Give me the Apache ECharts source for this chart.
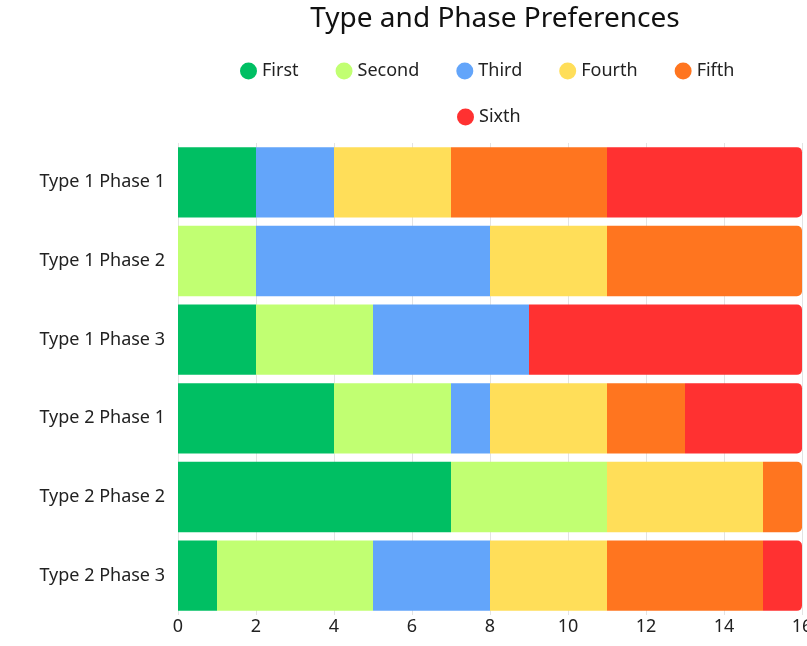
<!DOCTYPE html>
<html>
<head>
<meta charset="utf-8">
<script src="https://cdn.jsdelivr.net/npm/echarts@6/dist/echarts.min.js"></script>
<style>
html,body{margin:0;padding:0;background:#fff;}
#main{width:807px;height:646px;}
</style>
</head>
<body>
<div id="main"></div>
<script>
const categories = ['Type 1 Phase 1','Type 1 Phase 2','Type 1 Phase 3','Type 2 Phase 1','Type 2 Phase 2','Type 2 Phase 3'];
const seriesNames = ['First','Second','Third','Fourth','Fifth','Sixth'];
const firstVals  = [2, 0, 2, 4, 7, 1];
const secondVals = [0, 2, 3, 3, 4, 4];
const thirdVals  = [2, 6, 4, 1, 0, 3];
const fourthVals = [3, 3, 0, 3, 4, 3];
const fifthVals  = [4, 5, 0, 2, 1, 4];
const sixthVals  = [5, 0, 7, 3, 0, 1];
const xTicks = [0, 2, 4, 6, 8, 10, 12, 14, 16];
const colors = ['#00BF63','#C1FF72','#63A5FA','#FFDE59','#FF751F','#FF3131'];

const allVals = [firstVals, secondVals, thirdVals, fourthVals, fifthVals, sixthVals];
// last non-zero segment per category gets the rounded right end
const lastIdx = categories.map((c, ci) => {
  let li = -1;
  allVals.forEach((arr, si) => { if (arr[ci] > 0) li = si; });
  return li;
});

const FONT = 'Noto Sans';
const series = seriesNames.map((name, si) => ({
  name: name,
  type: 'bar',
  stack: 'total',
  barCategoryGap: '10.5%',
  itemStyle: { color: colors[si] },
  data: allVals[si].map((v, ci) => ({
    value: v,
    itemStyle: lastIdx[ci] === si ? { borderRadius: [0, 5, 5, 0] } : { borderRadius: 0 }
  }))
}));

const chart = echarts.init(document.getElementById('main'), null, { renderer: 'canvas' });
chart.setOption({
  animation: false,
  color: colors,
  textStyle: { fontFamily: FONT },
  title: {
    text: 'Type and Phase Preferences',
    left: 490,
    top: 0,
    textAlign: 'center',
    textStyle: { fontFamily: FONT, fontSize: 28, fontWeight: 'normal', color: '#111' }
  },
  legend: [
    {
      data: seriesNames.slice(0, 5),
      left: 235, top: 57,
      icon: 'circle', itemWidth: 17, itemHeight: 17, itemGap: 37,
      textStyle: { fontFamily: FONT, fontSize: 18, color: '#222' }
    },
    {
      data: seriesNames.slice(5),
      left: 452, top: 103,
      icon: 'circle', itemWidth: 17, itemHeight: 17, itemGap: 37,
      textStyle: { fontFamily: FONT, fontSize: 18, color: '#222' }
    }
  ],
  grid: { left: 178, right: 5, top: 143, bottom: 31, containLabel: false, outerBoundsMode: 'none' },
  xAxis: {
    type: 'value',
    min: xTicks[0], max: xTicks[xTicks.length - 1], interval: 2,
    axisLine: { show: false },
    axisTick: { show: false },
    axisLabel: { fontFamily: FONT, fontSize: 18, color: '#222', margin: 3 },
    splitLine: { show: true, lineStyle: { color: '#e3e3e3', width: 1 } }
  },
  yAxis: {
    type: 'category',
    data: categories,
    inverse: true,
    axisLine: { show: false },
    axisTick: { show: false },
    axisLabel: { fontFamily: FONT, fontSize: 18, color: '#222', margin: 13 }
  },
  series: series
});
</script>
</body>
</html>
